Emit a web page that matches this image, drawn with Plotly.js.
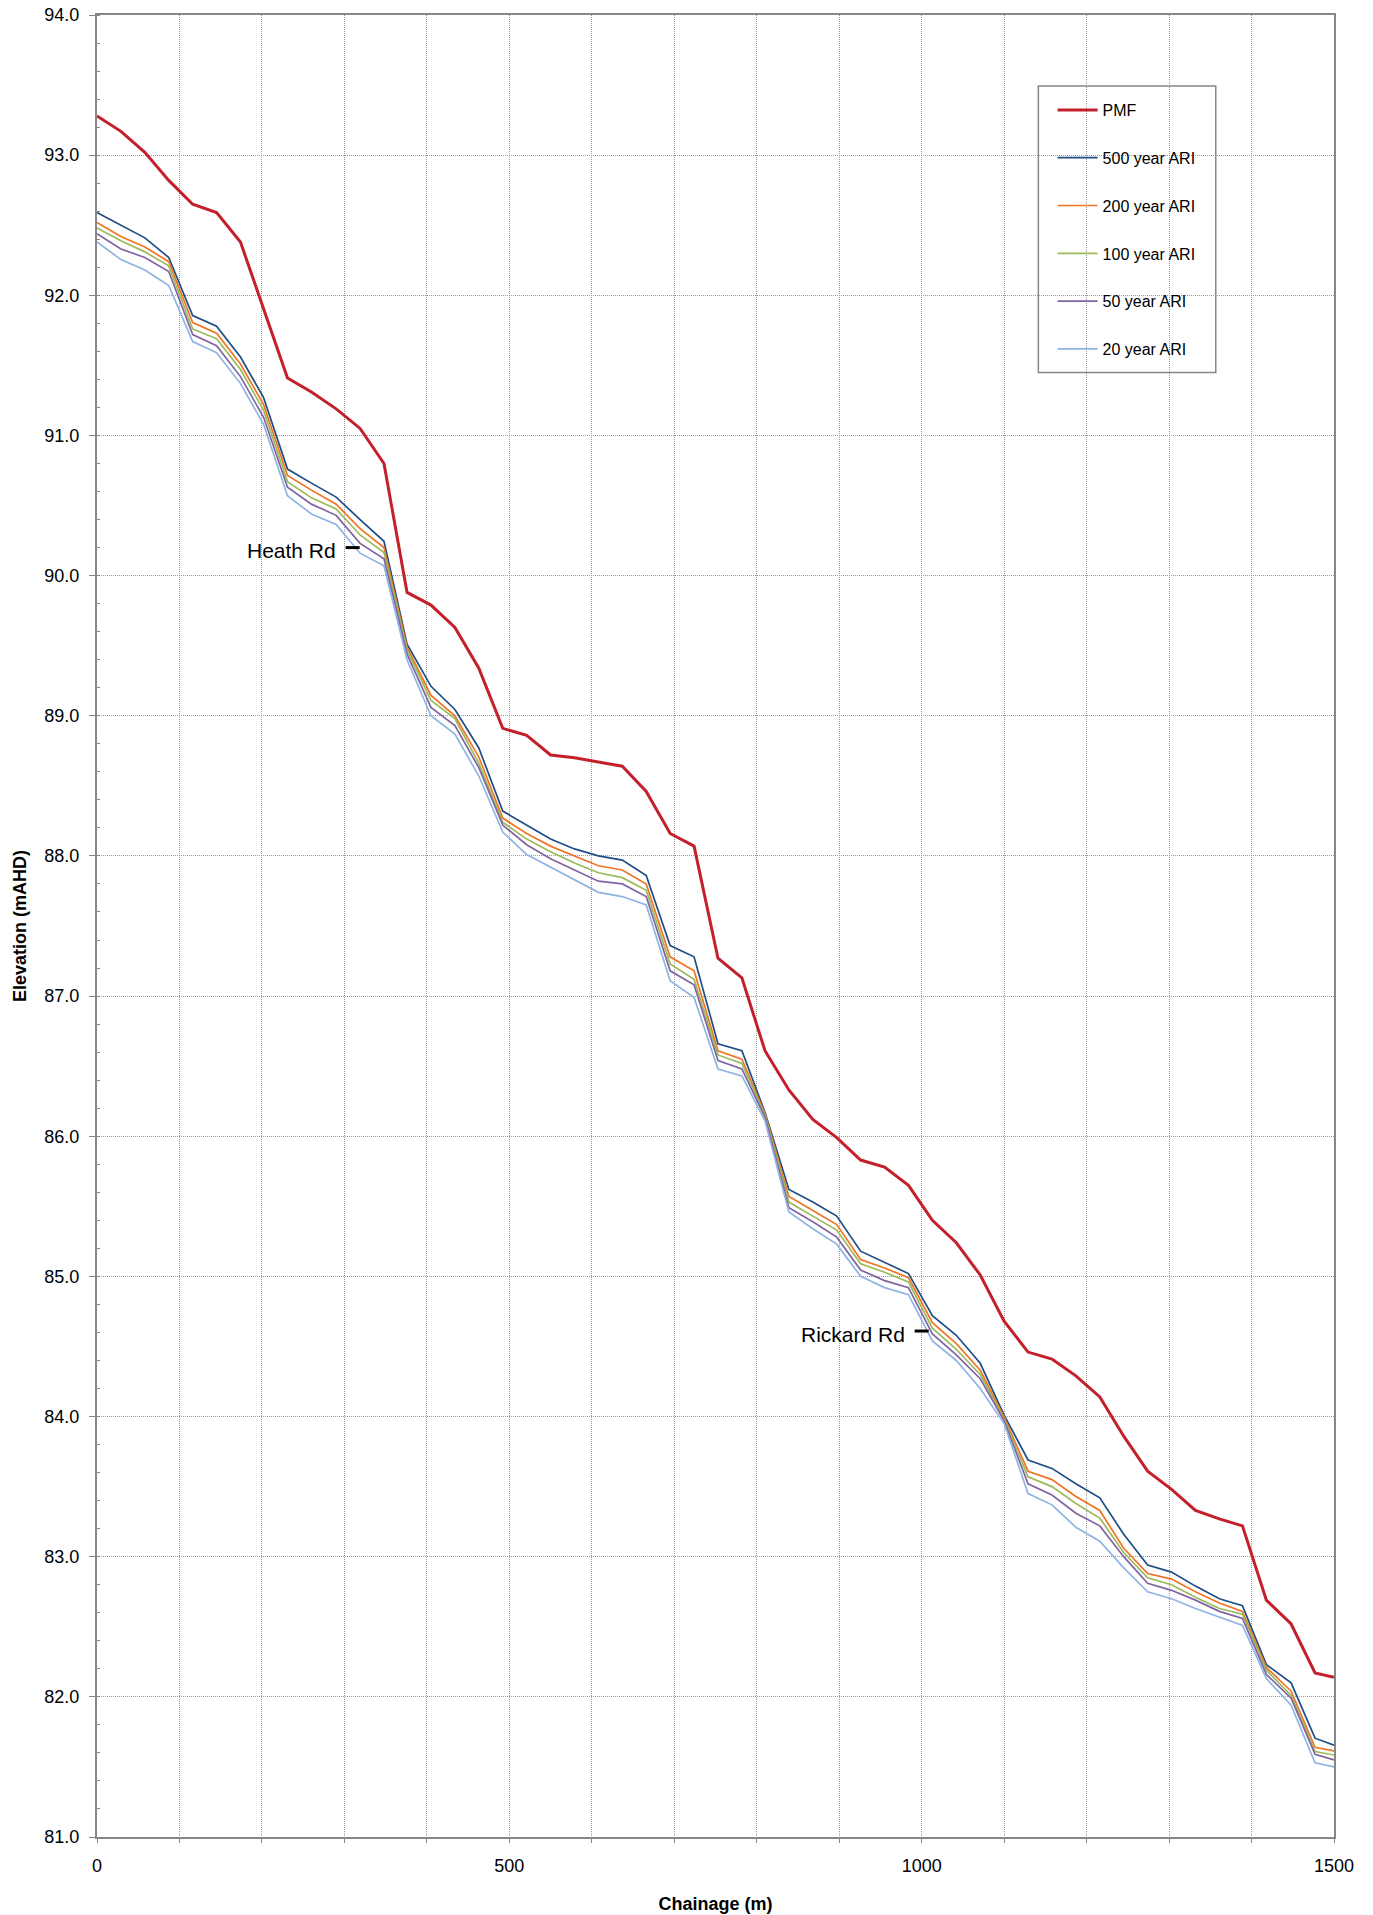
<!DOCTYPE html>
<html>
<head>
<meta charset="utf-8">
<script src="https://cdn.plot.ly/plotly-3.0.1.min.js"></script>
<style>
  html, body { margin: 0; padding: 0; background: #ffffff; }
  #chart { width: 1373px; height: 1915px; }
</style>
</head>
<body>
<div id="chart"></div>
<script>
// Chainage (m) of each cross-section
const chainage = [0, 29, 58, 87, 116, 145, 174, 202, 231, 260, 290, 319, 348, 376, 405, 434, 463, 492, 521, 550,
  579, 608, 637, 666, 695, 724, 753, 782, 810, 839, 868, 897, 926, 955, 984, 1013, 1042, 1071, 1100, 1129,
  1158, 1187, 1216, 1245, 1274, 1303, 1332, 1361, 1389, 1418, 1448, 1477, 1500];

// Flood levels (mAHD)
const pmf = [93.28, 93.17, 93.02, 92.82, 92.65, 92.59, 92.38, 91.90, 91.41, 91.31, 91.19, 91.05, 90.80, 89.88, 89.79, 89.63, 89.34, 88.91, 88.86, 88.72,
  88.70, 88.67, 88.64, 88.46, 88.16, 88.07, 87.27, 87.13, 86.61, 86.33, 86.12, 85.99, 85.83, 85.78, 85.65, 85.40, 85.24, 85.01, 84.68, 84.46,
  84.41, 84.29, 84.14, 83.86, 83.61, 83.48, 83.33, 83.27, 83.22, 82.69, 82.52, 82.17, 82.14];

const ari500 = [92.59, 92.50, 92.41, 92.27, 91.855, 91.78, 91.56, 91.27, 90.76, 90.66, 90.56, 90.40, 90.245, 89.51, 89.21, 89.045, 88.77, 88.32, 88.22, 88.12,
  88.05, 88.00, 87.97, 87.86, 87.36, 87.28, 86.66, 86.61, 86.17, 85.62, 85.53, 85.43, 85.18, 85.10, 85.02, 84.72, 84.58, 84.38, 84.01, 83.69,
  83.63, 83.52, 83.42, 83.16, 82.94, 82.89, 82.79, 82.70, 82.65, 82.23, 82.10, 81.705, 81.655];

const ari200 = [92.52, 92.42, 92.345, 92.24, 91.805, 91.73, 91.51, 91.22, 90.715, 90.61, 90.51, 90.335, 90.20, 89.49, 89.145, 89.00, 88.705, 88.27, 88.16, 88.07,
  88.00, 87.93, 87.90, 87.80, 87.28, 87.18, 86.61, 86.55, 86.16, 85.57, 85.47, 85.37, 85.12, 85.06, 84.99, 84.67, 84.52, 84.33, 83.995, 83.61,
  83.55, 83.43, 83.33, 83.06, 82.88, 82.84, 82.75, 82.67, 82.61, 82.21, 82.04, 81.64, 81.615];

const ari100 = [92.48, 92.39, 92.31, 92.21, 91.76, 91.69, 91.47, 91.18, 90.67, 90.555, 90.475, 90.29, 90.165, 89.47, 89.11, 88.98, 88.66, 88.24, 88.12, 88.03,
  87.95, 87.88, 87.845, 87.755, 87.23, 87.12, 86.58, 86.52, 86.15, 85.53, 85.43, 85.33, 85.09, 85.03, 84.96, 84.63, 84.48, 84.30, 83.98, 83.57,
  83.50, 83.38, 83.275, 83.03, 82.85, 82.80, 82.71, 82.63, 82.59, 82.19, 82.01, 81.61, 81.585];

const ari50 = [92.44, 92.33, 92.27, 92.17, 91.72, 91.64, 91.42, 91.13, 90.63, 90.51, 90.43, 90.23, 90.12, 89.44, 89.06, 88.93, 88.63, 88.22, 88.08, 87.98,
  87.90, 87.82, 87.80, 87.71, 87.18, 87.08, 86.54, 86.48, 86.135, 85.49, 85.39, 85.28, 85.045, 84.97, 84.92, 84.59, 84.44, 84.27, 83.97, 83.52,
  83.44, 83.31, 83.22, 83.00, 82.81, 82.76, 82.69, 82.61, 82.56, 82.16, 81.99, 81.59, 81.55];

const ari20 = [92.38, 92.255, 92.18, 92.07, 91.67, 91.59, 91.37, 91.08, 90.57, 90.44, 90.365, 90.16, 90.07, 89.40, 89.00, 88.87, 88.57, 88.17, 88.01, 87.92,
  87.83, 87.74, 87.71, 87.65, 87.11, 86.99, 86.48, 86.43, 86.11, 85.46, 85.34, 85.23, 85.00, 84.92, 84.87, 84.54, 84.40, 84.20, 83.95, 83.45,
  83.37, 83.21, 83.11, 82.92, 82.75, 82.70, 82.63, 82.57, 82.51, 82.13, 81.94, 81.53, 81.50];

const seriesNames = ['PMF', '500 year ARI', '200 year ARI', '100 year ARI', '50 year ARI', '20 year ARI'];

// Road crossings
const roadNames = ['Heath Rd', 'Rickard Rd'];
const roadChainage = [310, 1000];
const roadLevel = [90.2, 84.61];

const FONT = '"Liberation Sans", Arial, Helvetica, sans-serif';
const seriesData = [pmf, ari500, ari200, ari100, ari50, ari20];
const seriesColors = ['#c3202b', '#1f4e86', '#f07426', '#9bbb59', '#8064a2', '#8fb4e3'];
const seriesWidths = [3, 1.7, 1.7, 1.7, 1.7, 1.7];

const traces = seriesData.map((ys, i) => ({
  type: 'scatter',
  mode: 'lines',
  x: chainage,
  y: ys,
  name: seriesNames[i],
  legendgroup: 'g' + i,
  line: { color: seriesColors[i], width: seriesWidths[i] },
  hoverinfo: 'skip'
}));

traces.push({
  type: 'scatter',
  mode: 'markers',
  x: roadChainage,
  y: roadLevel,
  marker: { symbol: 'line-ew', size: 10, color: '#000000', line: { color: '#000000', width: 3 } },
  showlegend: false,
  hoverinfo: 'skip'
});

const roadAnnotations = roadNames.map((name, i) => ({
  x: roadChainage[i],
  y: roadLevel[i],
  xref: 'x',
  yref: 'y',
  text: name,
  showarrow: false,
  xanchor: 'right',
  yanchor: 'middle',
  xshift: -15,
  yshift: -3,
  font: { family: FONT, size: 21, color: '#000000' }
}));

const gridDash = '1px,1px';
const axisColor = '#868686';
const gridColor = '#9a9a9a';

const layout = {
  width: 1373,
  height: 1915,
  margin: { l: 97, r: 39, t: 15, b: 78 },
  paper_bgcolor: '#ffffff',
  plot_bgcolor: '#ffffff',
  font: { family: FONT, size: 18, color: '#000000' },
  showlegend: true,
  legend: {
    x: 0.7725,
    y: 0.9572,
    xanchor: 'left',
    yanchor: 'top',
    bgcolor: 'rgba(0,0,0,0)',
    borderwidth: 0,
    font: { family: FONT, size: 16, color: '#000000' },
    traceorder: 'grouped',
    tracegroupgap: 24,
    itemwidth: 40
  },
  annotations: roadAnnotations,
  shapes: [{
    type: 'rect',
    xref: 'paper', yref: 'paper',
    x0: 0.761, x1: 0.9044, y0: 0.8038, y1: 0.961,
    fillcolor: '#ffffff',
    line: { color: axisColor, width: 1.5 },
    layer: 'between'
  }],
  xaxis: {
    range: [0, 1500],
    tickmode: 'linear',
    tick0: 0,
    dtick: 500,
    ticks: 'outside',
    ticklen: 4,
    tickcolor: axisColor,
    ticklabelstandoff: 7,
    tickfont: { family: FONT, size: 18, color: '#000000' },
    showline: true,
    linecolor: axisColor,
    linewidth: 2,
    mirror: true,
    showgrid: true,
    gridcolor: gridColor,
    griddash: gridDash,
    gridwidth: 1,
    zeroline: false,
    minor: {
      dtick: 100,
      ticks: 'outside',
      ticklen: 4,
      tickcolor: axisColor,
      showgrid: true,
      gridcolor: gridColor,
      griddash: gridDash,
      gridwidth: 1
    },
    title: {
      text: 'Chainage (m)',
      font: { family: FONT, size: 18, color: '#000000', weight: 'bold' },
      standoff: 23
    }
  },
  yaxis: {
    range: [81, 94],
    tickmode: 'linear',
    tick0: 81,
    dtick: 1,
    tickformat: '.1f',
    ticks: 'outside',
    ticklen: 6,
    tickcolor: axisColor,
    ticklabelstandoff: 6,
    tickfont: { family: FONT, size: 18, color: '#000000' },
    showline: true,
    linecolor: axisColor,
    linewidth: 2,
    mirror: true,
    showgrid: true,
    gridcolor: gridColor,
    griddash: gridDash,
    gridwidth: 1,
    zeroline: false,
    minor: {
      dtick: 0.2,
      ticks: 'inside',
      ticklen: 3,
      tickcolor: axisColor,
      showgrid: false
    },
    title: {
      text: 'Elevation (mAHD)',
      font: { family: FONT, size: 18, color: '#000000', weight: 'bold' },
      standoff: 13
    }
  }
};

Plotly.newPlot('chart', traces, layout, { displayModeBar: false, staticPlot: true });
</script>
</body>
</html>
